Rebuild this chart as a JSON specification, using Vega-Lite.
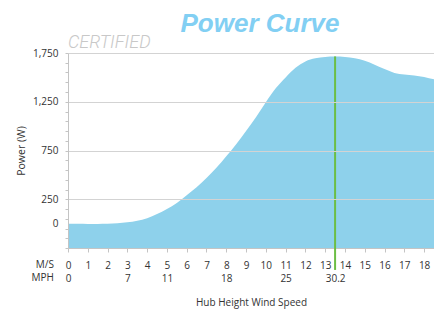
{
  "$schema": "https://vega.github.io/schema/vega-lite/v6.json",
  "width": 366,
  "height": 195,
  "autosize": {"type": "none"},
  "padding": {"left": 68, "top": 53, "right": 0, "bottom": 63},
  "background": "white",
  "title": {"text": "Power Curve", "font": "Liberation Sans", "fontSize": 26, "fontStyle": "italic", "fontWeight": "bold", "color": "#82CFF3", "anchor": "middle", "dx": 9, "offset": -2.5},
  "config": {"view": {"stroke": null}, "font": "Open Sans"},
  "datasets": {
    "curve": [
      {"ms": 0, "power": 0}, {"ms": 0.5, "power": -2}, {"ms": 1, "power": -3}, {"ms": 1.5, "power": -3},
      {"ms": 2, "power": -2}, {"ms": 2.5, "power": 3}, {"ms": 3, "power": 13}, {"ms": 3.5, "power": 30},
      {"ms": 4, "power": 55}, {"ms": 4.5, "power": 98}, {"ms": 5, "power": 150}, {"ms": 5.5, "power": 212},
      {"ms": 6, "power": 290}, {"ms": 6.5, "power": 372}, {"ms": 7, "power": 467}, {"ms": 7.5, "power": 572},
      {"ms": 8, "power": 690}, {"ms": 8.5, "power": 815}, {"ms": 9, "power": 950}, {"ms": 9.5, "power": 1092},
      {"ms": 10, "power": 1245}, {"ms": 10.5, "power": 1388}, {"ms": 11, "power": 1500}, {"ms": 11.5, "power": 1598},
      {"ms": 12, "power": 1663}, {"ms": 12.5, "power": 1695}, {"ms": 13, "power": 1710}, {"ms": 13.5, "power": 1715},
      {"ms": 14, "power": 1710}, {"ms": 14.5, "power": 1695}, {"ms": 15, "power": 1670}, {"ms": 15.5, "power": 1630},
      {"ms": 16, "power": 1585}, {"ms": 16.5, "power": 1546}, {"ms": 17, "power": 1530}, {"ms": 17.5, "power": 1520},
      {"ms": 18, "power": 1505}, {"ms": 18.5, "power": 1480}
    ],
    "rated": [{"ms": 13.5, "power": 1715, "bottom": -475}],
    "certified": [{"text": "CERTIFIED", "ms": 0, "power": 1750}],
    "units": [{"text": "M/S\nMPH", "ms": 0, "power": -250}]
  },
  "encoding": {
    "x": {
      "field": "ms", "type": "quantitative",
      "scale": {"domain": [0, 18.5], "nice": false, "zero": false},
      "axis": {
        "title": "Hub Height Wind Speed",
        "values": [0, 1, 2, 3, 4, 5, 6, 7, 8, 9, 10, 11, 12, 13, 14, 15, 16, 17, 18, 13.5],
        "labelExpr": "datum.value == 13.5 ? ['', '30.2'] : [datum.label, datum.value == 0 ? '0' : datum.value == 3 ? '7' : datum.value == 5 ? '11' : datum.value == 8 ? '18' : datum.value == 11 ? '25' : '']",
        "labelLineHeight": 13,
        "labelFlush": false,
        "labelOverlap": false,
        "labelFont": "Open Sans",
        "labelFontSize": 10,
        "labelColor": "#333333",
        "labelPadding": 8,
        "tickSize": 4,
        "tickColor": "#c4c4c4",
        "tickOpacity": {"condition": {"test": "datum.value == 13.5", "value": 0}, "value": 1},
        "domainColor": "#c4c4c4",
        "grid": false,
        "titleFont": "Open Sans",
        "titleFontSize": 10,
        "titleFontWeight": "normal",
        "titleColor": "#333333",
        "titlePadding": 14
      }
    },
    "y": {
      "field": "power", "type": "quantitative",
      "scale": {"domain": [-250, 1750], "nice": false, "zero": false},
      "axis": {
        "title": "Power (W)",
        "values": [-250, -150, -50, 0, 50, 150, 250, 350, 450, 550, 650, 750, 850, 950, 1050, 1150, 1250, 1350, 1450, 1550, 1650, 1750],
        "format": ",d",
        "labelExpr": "indexof([0, 250, 750, 1250, 1750], datum.value) >= 0 ? datum.label : ''",
        "labelOverlap": false,
        "labelFont": "Open Sans",
        "labelFontSize": 10,
        "labelColor": "#333333",
        "labelPadding": 7,
        "tickSize": 3,
        "tickColor": "#c4c4c4",
        "tickOpacity": {"condition": {"test": "datum.value == 0", "value": 0}, "value": 1},
        "domainColor": "#c4c4c4",
        "grid": true,
        "gridColor": "#d3d3d3",
        "gridOpacity": {"condition": {"test": "indexof([250, 750, 1250, 1750], datum.value) >= 0", "value": 1}, "value": 0},
        "zindex": 1,
        "titleFont": "Open Sans",
        "titleFontSize": 10.5,
        "titleFontWeight": "normal",
        "titleColor": "#333333",
        "titlePadding": 6
      }
    }
  },
  "layer": [
    {
      "data": {"name": "curve"},
      "mark": {"type": "area", "interpolate": "monotone", "color": "#8ED1EB"},
      "encoding": {"y2": {"datum": -250}}
    },
    {
      "data": {"name": "rated"},
      "mark": {"type": "rule", "color": "#6CBE45", "strokeWidth": 2},
      "encoding": {"y2": {"field": "bottom"}}
    },
    {
      "data": {"name": "certified"},
      "mark": {"type": "text", "align": "left", "baseline": "alphabetic", "dy": -5, "font": "Roboto", "fontSize": 18, "fontStyle": "italic", "fontWeight": 300, "color": "#c8c8c8"},
      "encoding": {"text": {"field": "text"}}
    },
    {
      "data": {"name": "units"},
      "mark": {"type": "text", "align": "right", "baseline": "top", "dx": -14, "dy": 12, "lineBreak": "\n", "lineHeight": 13, "font": "Open Sans", "fontSize": 10, "color": "#333333"},
      "encoding": {"text": {"field": "text"}}
    }
  ]
}
